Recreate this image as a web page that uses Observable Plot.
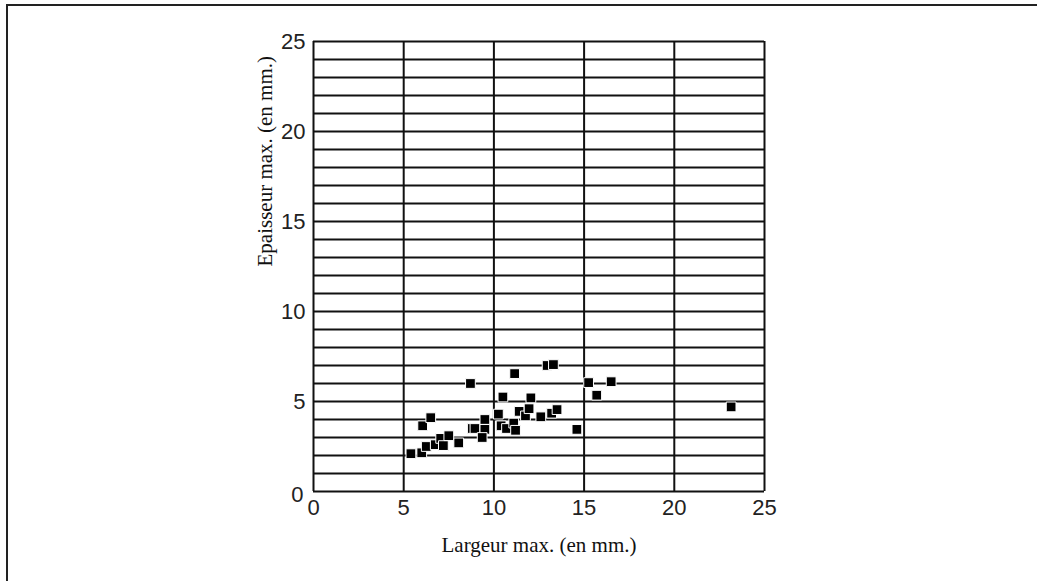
<!DOCTYPE html>
<html>
<head>
<meta charset="utf-8">
<script src="https://cdn.jsdelivr.net/npm/d3@7"></script>
<script src="https://cdn.jsdelivr.net/npm/@observablehq/plot@0.6"></script>
<style>
  html, body { margin: 0; padding: 0; background: #fff; }
  #wrap { position: relative; width: 1037px; height: 581px; overflow: hidden; }
  #border { position: absolute; left: 6px; top: 4px; width: 1100px; height: 700px;
            border-left: 2px solid #222; border-top: 2px solid #222; }
  #chart { position: absolute; left: 0; top: 0; }
</style>
</head>
<body>
<div id="wrap"><div id="border"></div><div id="chart"></div></div>
<script>
// Largeur max. (mm)
const largeur = [5.4, 6.0, 6.25, 6.05, 6.5, 6.75, 7.05, 7.2, 7.5, 8.05,
  8.7, 8.8, 8.95, 9.5, 9.5, 9.35, 10.25, 10.5, 10.4, 10.7,
  11.1, 11.2, 11.15, 11.4, 11.75, 11.95, 12.05, 12.6, 12.95, 13.3,
  13.2, 13.5, 14.6, 15.25, 15.7, 16.5, 23.15];
// Epaisseur max. (mm)
const epaisseur = [2.1, 2.15, 2.5, 3.65, 4.1, 2.6, 2.95, 2.55, 3.1, 2.7,
  6.0, 3.5, 3.5, 4.0, 3.45, 3.0, 4.3, 5.25, 3.65, 3.5,
  3.8, 3.4, 6.55, 4.45, 4.2, 4.6, 5.2, 4.15, 7.0, 7.05,
  4.35, 4.55, 3.45, 6.05, 5.35, 6.1, 4.7];
const xTicks = [0, 5, 10, 15, 20, 25];
const yTicks = [0, 5, 10, 15, 20, 25];
const yGrid = d3.range(0, 26);
const xLabel = "Largeur max. (en mm.)";
const yLabel = "Epaisseur max. (en mm.)";

const data = largeur.map((x, i) => ({x, y: epaisseur[i]}));

const chart = Plot.plot({
  width: 1037,
  height: 581,
  marginLeft: 313,
  marginRight: 273,
  marginTop: 41,
  marginBottom: 90,
  style: {background: "transparent", fontFamily: "'Liberation Sans', Arial, sans-serif"},
  x: {domain: [0, 25]},
  y: {domain: [0, 25]},
  marks: [
    Plot.ruleY(yGrid, {stroke: "#111", strokeWidth: 2}),
    Plot.ruleX(xTicks, {stroke: "#111", strokeWidth: 2}),
    Plot.axisX({ticks: xTicks, tickSize: 0, tickPadding: 8, fontSize: 22, label: null, fill: "#222"}),
    Plot.axisY({ticks: yTicks.filter(d => d > 0), tickSize: 0, tickPadding: 8, fontSize: 22, label: null, fill: "#222"}),
    Plot.axisY({ticks: [0], tickSize: 0, tickPadding: 10, dy: 3, fontSize: 22, label: null, fill: "#222"}),
    Plot.dot(data, {x: "x", y: "y", symbol: "square", r: 5.5, fill: "#000", stroke: "#fff", strokeWidth: 1}),
    Plot.text([xLabel], {text: d => d, frameAnchor: "bottom", dy: 60, fontSize: 21,
      fontFamily: "'Liberation Serif', 'Times New Roman', serif", fill: "#111"}),
    Plot.text([yLabel], {text: d => d, frameAnchor: "left", dx: -48, rotate: -90, fontSize: 21,
      fontFamily: "'Liberation Serif', 'Times New Roman', serif", fill: "#111"})
  ]
});
document.getElementById("chart").appendChild(chart);
</script>
</body>
</html>
